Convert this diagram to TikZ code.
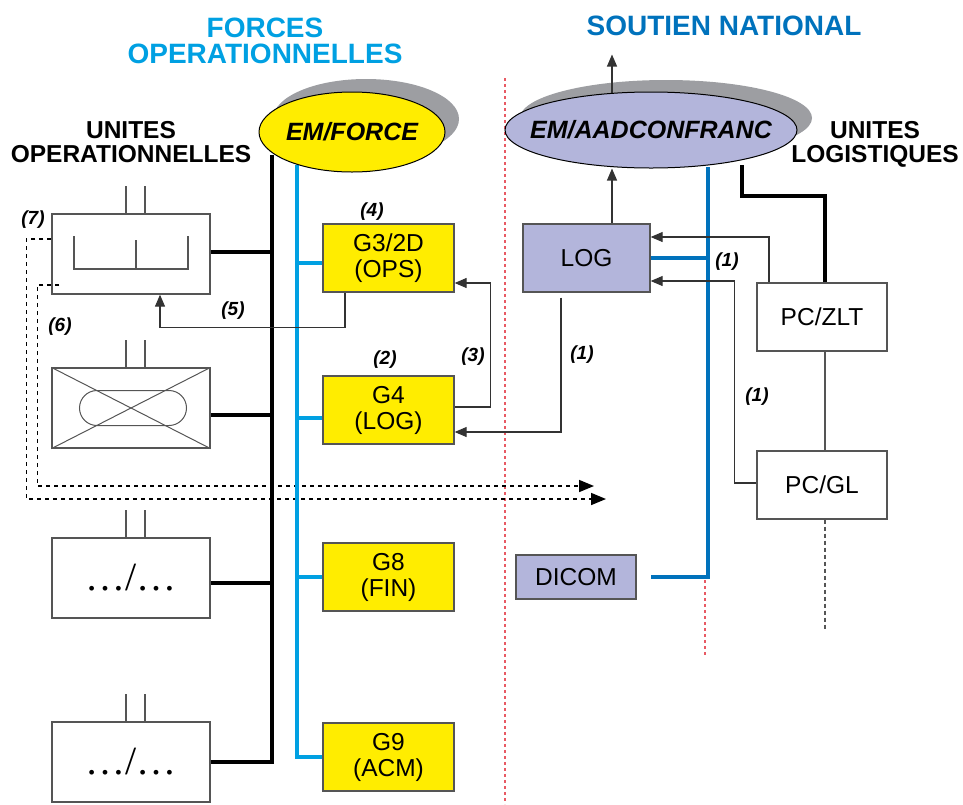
\documentclass[tikz,border=0pt]{standalone}
\usepackage{fontspec}
\setmainfont{Liberation Sans}
\newfontfamily\serifdots{Liberation Serif}
\usetikzlibrary{shapes.geometric,arrows.meta,backgrounds}
\definecolor{ltblue}{HTML}{00A0E2}
\definecolor{dkblue}{HTML}{0072BC}
\definecolor{yel}{HTML}{FFED00}
\definecolor{purp}{HTML}{B3B5DB}
\definecolor{shgray}{HTML}{9D9EA2}
\definecolor{boxgray}{HTML}{555555}
\definecolor{redline}{HTML}{E85A64}
\begin{document}
\begin{tikzpicture}[x=1pt,y=-1pt,
  ubox/.style={draw=boxgray,line width=1.3pt,minimum width=158pt,minimum height=80pt,inner sep=0pt},
  dotsbox/.style={ubox,font=\serifdots\fontsize{40}{40}\selectfont},
  ybox/.style={draw=boxgray,fill=yel,line width=1.3pt,minimum width=131pt,minimum height=68pt,inner sep=0pt,align=center,font=\fontsize{24.5}{26}\selectfont},
  pbox/.style={draw=boxgray,fill=purp,line width=1.3pt,inner sep=0pt,align=center,font=\fontsize{24.5}{26}\selectfont},
  wbox/.style={draw=boxgray,fill=white,line width=1.3pt,minimum width=130pt,minimum height=68pt,inner sep=0pt,align=center,font=\fontsize{24.5}{26}\selectfont},
  thinl/.style={draw=boxgray,line width=1.2pt},
  arr/.style={line width=1.1pt,draw=black!80,-{Triangle[length=12pt,width=10pt]}},
  darr/.style={line width=1.6pt,dash pattern=on 4pt off 4pt,-{Triangle[length=15pt,width=12pt]}},
  lbl/.style={font=\fontsize{19}{19}\selectfont\bfseries\itshape},
  hdr/.style={font=\fontsize{28}{28}\selectfont\bfseries,anchor=base},
  sub/.style={font=\fontsize{24.5}{24.5}\selectfont\bfseries,anchor=base},
  ell/.style={ellipse,draw=black,line width=1pt,inner sep=0pt},
  bus/.style={line width=4pt},
  lbus/.style={line width=4pt,draw=ltblue},
  dbus/.style={line width=4pt,draw=dkblue}
]
\useasboundingbox (0,0) rectangle (963,804);

% titles
\node[hdr,text=ltblue] (t1) at (265,37) {FORCES};
\node[hdr,text=ltblue] (t2) at (265,63) {OPERATIONNELLES};
\node[hdr,text=dkblue] (t3) at (724,35) {SOUTIEN NATIONAL};
\node[sub] (t4) at (131,138) {UNITES};
\node[sub] (t5) at (131,162) {OPERATIONNELLES};
\node[sub] (t6) at (875,138) {UNITES};
\node[sub] (t7) at (875,162) {LOGISTIQUES};

% ellipses
\node[ell,fill=yel,minimum width=186pt,minimum height=80pt,
  label={[font=\fontsize{25}{25}\selectfont\bfseries\itshape]center:EM/FORCE}] (em1) at (352,132) {};
\node[ell,fill=purp,minimum width=292pt,minimum height=76pt,
  label={[font=\fontsize{25}{25}\selectfont\bfseries\itshape]center:EM/AADCONFRANC}] (em2) at (651,130) {};

% unit boxes
\node[ubox] (u1) at (131,254) {};
\node[ubox] (u2) at (131,408) {};
\node[dotsbox] (u3) at (131,578) {\dots/\dots};
\node[dotsbox] (u4) at (131,762) {\dots/\dots};

% yellow boxes
\node[ybox] (g3) at (388.5,258) {G3/2D\\(OPS)};
\node[ybox] (g4) at (388.5,410) {G4\\(LOG)};
\node[ybox] (g8) at (388.5,577) {G8\\(FIN)};
\node[ybox] (g9) at (388.5,757) {G9\\(ACM)};

% soutien boxes
\node[pbox,minimum width=127pt,minimum height=68pt] (log) at (586.5,258) {LOG};
\node[pbox,minimum width=120pt,minimum height=44pt] (dicom) at (576,577) {DICOM};
\node[wbox] (zlt) at (822,317) {PC/ZLT};
\node[wbox] (gl) at (822,485) {PC/GL};

% box contents
\draw[thinl] ([shift={(-57,-18)}]u1.center) -- ([shift={(-57,15)}]u1.center) -- ([shift={(57,15)}]u1.center) -- ([shift={(57,-18)}]u1.center);
\draw[thinl] ([shift={(5,15)}]u1.center) -- ([shift={(5,-14)}]u1.center);
\draw[thinl,line width=1pt] (u2.north west) -- (u2.south east);
\draw[thinl,line width=1pt] (u2.south west) -- (u2.north east);
\draw[thinl,line width=1pt,rounded corners=17.5pt] ([shift={(-51.5,-17.5)}]u2.center) rectangle ([shift={(55.5,17.5)}]u2.center);

% labels
\node[lbl] (l4) at (372,212) {(4)};
\node[lbl] (l2) at (385,360) {(2)};
\node[lbl] (l3) at (473,357) {(3)};
\node[lbl] (l1a) at (582,355) {(1)};
\node[lbl] (l5) at (233,311) {(5)};
\node[lbl] (l6) at (60,327) {(6)};
\node[lbl] (l7) at (33,220) {(7)};
\node[lbl] (l1b) at (727,262) {(1)};
\node[lbl] (l1c) at (757,397) {(1)};

\coordinate (busB) at (272,155);
\coordinate (busL) at (297,165);
\coordinate (busR) at (708,167);
\coordinate (zltl) at (742,165);
\coordinate (e7) at (606,499);
\coordinate (e6) at (594,486);

\begin{pgfonlayer}{background}
  % shadows
  \fill[shgray] (366,119) ellipse [x radius=93pt, y radius=40pt];
  \fill[shgray] (666,118) ellipse [x radius=146pt, y radius=38pt];
  % red dashed separators
  \draw[redline,line width=1.2pt,dash pattern=on 3pt off 3pt] (505,78) -- (505,804);
  \draw[redline,line width=1.2pt,dash pattern=on 3pt off 3pt] (705,580) -- (705,657);
  % dashed arrows
  \draw[darr] ([yshift=15]u1.west) -- ++(-25,0) |- (e7);
  \draw[darr] ([xshift=8,yshift=-31]u1.west) -- ++(-22,0) |- (e6);
  % antenna lines
  \foreach \u in {u1,u2,u3,u4}{
    \draw[thinl] ([xshift=-5]\u.north) -- ++(0,-27);
    \draw[thinl] ([xshift=14]\u.north) -- ++(0,-27);
  }
  % black bus
  \draw[bus] (busB) |- (u4.east);
  \draw[bus] ([yshift=2]u1.east) -- ([yshift=2]u1.east -| busB);
  \draw[bus] ([yshift=-7]u2.east) -- ([yshift=-7]u2.east -| busB);
  \draw[bus] ([yshift=-5]u3.east) -- ([yshift=-5]u3.east -| busB);
  % blue bus
  \draw[lbus] (busL) |- (g9.west);
  \draw[lbus] ([yshift=-5]g3.west -| busL) -- ([yshift=-5]g3.west);
  \draw[lbus] ([yshift=-8]g4.west -| busL) -- ([yshift=-8]g4.west);
  \draw[lbus] (g8.west -| busL) -- (g8.west);
  % arrows left
  \draw[arr] ([xshift=-43.5]g3.south) -- ++(0,35) -| ([xshift=29]u1.south);
  \draw[arr] ([yshift=3]g4.east) -- ++(36,0) |- ([yshift=-25]g3.east);
  \draw[arr] ([xshift=-25.5,yshift=-5]log.south) |- ([yshift=-22]g4.east);
  % soutien
  \draw[arr] ([xshift=25.5]log.north) -- ([xshift=25.5]log.north |- em2.south);
  \draw[arr] ([xshift=-39,yshift=-1]em2.north) -- ++(0,-38);
  \draw[dbus] (log.east) -- (log.east -| busR);
  \draw[dbus] (busR) |- ([xshift=14]dicom.east);
  \draw[bus] (zltl) -- (742,196) -| ([xshift=3]zlt.north);
  \draw[arr] ([xshift=-53]zlt.north) |- ([yshift=21]log.east);
  \draw[arr] ([yshift=2]gl.west) -- ++(-22,0) |- ([yshift=-23]log.east);
  \draw[thinl] ([xshift=3]zlt.south) -- ([xshift=3]gl.north);
  \draw[thinl,dash pattern=on 4pt off 3pt] ([xshift=3]gl.south) -- ++(0,111);
\end{pgfonlayer}
\end{tikzpicture}
\end{document}
